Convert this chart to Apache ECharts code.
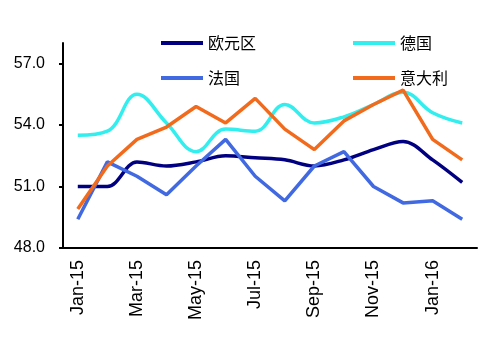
<!DOCTYPE html>
<html>
<head>
<meta charset="utf-8">
<script src="https://cdn.jsdelivr.net/npm/echarts@6/dist/echarts.min.js"></script>
<style>
html,body{margin:0;padding:0;background:#fff;}
#c{width:500px;height:340px;}
</style>
</head>
<body>
<div id="c"></div>
<script>
var categories = ['Jan-15','Feb-15','Mar-15','Apr-15','May-15','Jun-15','Jul-15','Aug-15','Sep-15','Oct-15','Nov-15','Dec-15','Jan-16','Feb-16'];
var eurozone = [51.0, 51.0, 52.2, 52.0, 52.2, 52.5, 52.4, 52.3, 52.0, 52.3, 52.8, 53.2, 52.3, 51.2];
var germany  = [53.5, 53.7, 55.5, 54.1, 52.7, 53.8, 53.7, 55.0, 54.1, 54.4, 55.0, 55.6, 54.6, 54.1];
var france   = [49.4, 52.2, 51.5, 50.6, 52.0, 53.3, 51.5, 50.3, 52.0, 52.7, 51.0, 50.2, 50.3, 49.4];
var italy    = [49.9, 52.0, 53.3, 53.9, 54.9, 54.1, 55.3, 53.8, 52.8, 54.2, 55.0, 55.7, 53.3, 52.3];
var yTicks = [48, 51, 54, 57];
var names = ['欧元区', '德国', '法国', '意大利'];
var colors = ['#000080', '#33EEEE', '#4169E1', '#F26B1D'];

var chart = echarts.init(document.getElementById('c'));
var legendPos = [[156, 30], [348, 30], [156, 65], [348, 65]];
var legends = names.map(function (n, i) {
  return {
    data: [n],
    left: legendPos[i][0],
    top: legendPos[i][1],
    icon: 'rect',
    itemWidth: 42,
    itemHeight: 4,
    itemGap: 5,
    textStyle: { fontSize: 16, color: '#000', fontFamily: 'Noto Sans CJK SC' }
  };
});
var dataSets = [eurozone, germany, france, italy];
var smooths = [0.35, 0.4, false, false];
chart.setOption({
  animation: false,
  color: colors,
  legend: legends,
  grid: { left: 63, right: 23, top: 43, bottom: 92, containLabel: false },
  xAxis: {
    type: 'category',
    data: categories,
    boundaryGap: true,
    axisLine: { lineStyle: { color: '#000', width: 2 } },
    axisTick: { interval: 1, length: 6, lineStyle: { color: '#000', width: 2 } },
    axisLabel: { interval: 1, rotate: 90, margin: 12, fontSize: 18, color: '#000', fontFamily: 'Liberation Sans' }
  },
  yAxis: {
    type: 'value',
    min: 48, max: 58, interval: 3,
    splitLine: { show: false },
    axisLine: { show: true, lineStyle: { color: '#000', width: 2 } },
    axisTick: { show: true, length: 4, customValues: yTicks, lineStyle: { color: '#000', width: 2 } },
    axisLabel: {
      customValues: yTicks, margin: 18, fontSize: 16, color: '#000', fontFamily: 'Liberation Sans',
      formatter: function (v) { return v.toFixed(1); }
    }
  },
  series: names.map(function (n, i) {
    return {
      name: n, type: 'line', data: dataSets[i], smooth: smooths[i],
      symbol: 'none', lineStyle: { width: 3.5, color: colors[i] }, itemStyle: { color: colors[i] }
    };
  })
});
</script>
</body>
</html>
